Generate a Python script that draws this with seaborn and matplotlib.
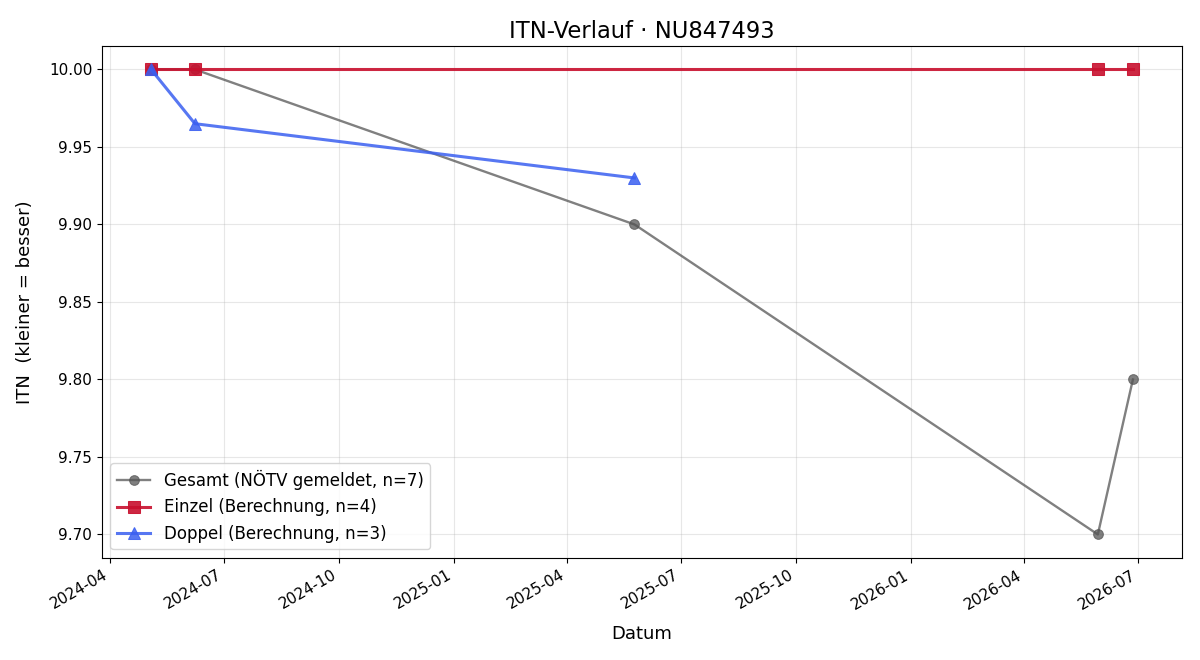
import matplotlib
matplotlib.use("Agg")
import matplotlib.pyplot as plt
import matplotlib.dates as mdates
import seaborn as sns
import pandas as pd

gesamt_dates = ["2024-05-04", "2024-06-08", "2025-05-25", "2026-05-30", "2026-06-27"]
gesamt_vals = [10.0, 10.0, 9.90, 9.70, 9.80]
einzel_dates = ["2024-05-04", "2024-06-08", "2026-05-30", "2026-06-27"]
einzel_vals = [10.0, 10.0, 10.0, 10.0]
doppel_dates = ["2024-05-04", "2024-06-08", "2025-05-25"]
doppel_vals = [10.0, 9.965, 9.93]

labels = ["Gesamt (NÖTV gemeldet, n=7)", "Einzel (Berechnung, n=4)", "Doppel (Berechnung, n=3)"]

plt.rcdefaults()
plt.rcParams["font.family"] = ["DejaVu Sans"]

fig, ax = plt.subplots(figsize=(12, 6.6), dpi=100)

g = pd.DataFrame({"d": pd.to_datetime(gesamt_dates), "v": gesamt_vals})
e = pd.DataFrame({"d": pd.to_datetime(einzel_dates), "v": einzel_vals})
dp = pd.DataFrame({"d": pd.to_datetime(doppel_dates), "v": doppel_vals})

sns.lineplot(data=g, x="d", y="v", ax=ax, color="#555555", alpha=0.75, marker="o",
             markersize=7, linewidth=1.7, label=labels[0], markeredgecolor="#555555")
sns.lineplot(data=e, x="d", y="v", ax=ax, color="#c8102e", alpha=0.9, marker="s",
             markersize=8, linewidth=2.2, label=labels[1], markeredgecolor="#c8102e")
sns.lineplot(data=dp, x="d", y="v", ax=ax, color="#3a5ff0", alpha=0.85, marker="^",
             markersize=8, linewidth=2.2, label=labels[2], markeredgecolor="#3a5ff0")

ax.xaxis.set_major_locator(mdates.MonthLocator(bymonth=[1, 4, 7, 10]))
ax.xaxis.set_major_formatter(mdates.DateFormatter("%Y-%m"))
ax.tick_params(axis="both", which="major", labelsize=11)
ax.grid(True, alpha=0.3)
ax.set_title("ITN-Verlauf · NU847493", fontsize=16.3)
ax.set_xlabel("Datum", fontsize=13, labelpad=9)
ax.set_ylabel("ITN  (kleiner = besser)", fontsize=13, labelpad=11)
ax.legend(loc="lower left", fontsize=12, frameon=True)
fig.autofmt_xdate()
fig.subplots_adjust(left=0.085, right=0.985, top=0.93, bottom=0.155)
fig.savefig("out.png", dpi=100)
